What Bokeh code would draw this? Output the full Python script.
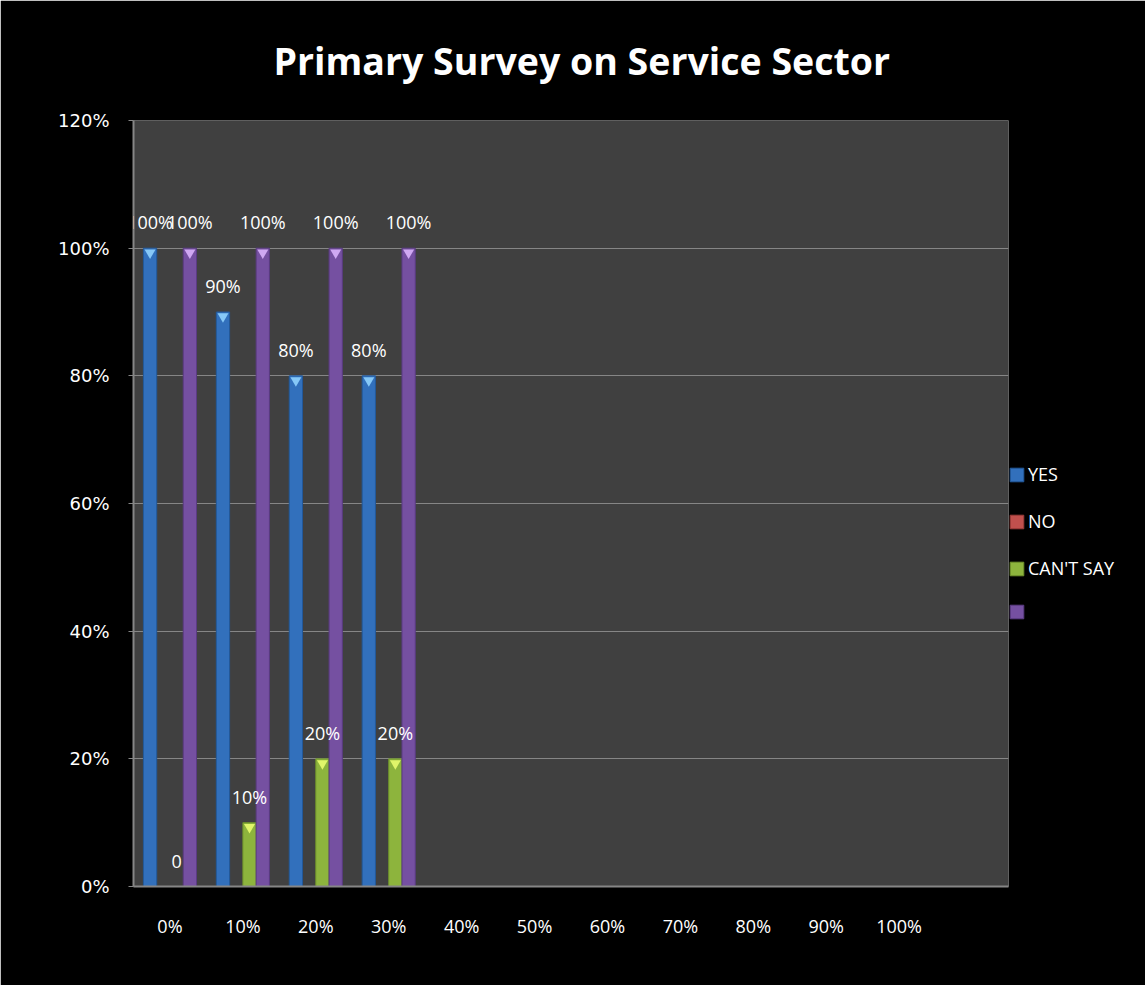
import math
from bokeh.plotting import figure
from bokeh.models import (ColumnDataSource, FactorRange, Range1d, NumeralTickFormatter,
                          FixedTicker, Legend, LegendItem, LabelSet)
from bokeh.transform import dodge
from bokeh.core.properties import value
from bokeh.embed import file_html
from bokeh.resources import INLINE

# ---------------- data ----------------
title_text = "Primary Survey on Service Sector"
categories = ["0%", "10%", "20%", "30%", "40%", "50%", "60%", "70%", "80%", "90%", "100%", " "]
data_categories = ["0%", "10%", "20%", "30%"]
yes_values = [1.0, 0.9, 0.8, 0.8]
no_values = [float("nan"), float("nan"), float("nan"), float("nan")]
cant_say_values = [0.0, 0.1, 0.2, 0.2]
blank_values = [1.0, 1.0, 1.0, 1.0]
series_names = ["YES", "NO", "CAN'T SAY", " "]
y_ticks = [0.0, 0.2, 0.4, 0.6, 0.8, 1.0, 1.2]

# ---------------- style ----------------
fill_colors = ["#3270BC", "#C0504D", "#8DB43D", "#7550A1"]
edge_colors = ["#22599A", "#9A3B38", "#6E912B", "#5A3B82"]
top_colors = ["#86C8F7", "#F09A98", "#E0F56A", "#CFA8F2"]
grid_color = "#868686"
bar_w = 0.182
offsets = [-1.5 * bar_w, -0.5 * bar_w, 0.5 * bar_w, 1.5 * bar_w]
FONT = "Open Sans"

p = figure(x_range=FactorRange(*categories), y_range=Range1d(0, 1.2),
           frame_width=875, frame_height=766, output_backend="svg", toolbar_location=None,
           min_border_left=133, min_border_right=121, min_border_top=120,
           min_border_bottom=99, background_fill_color="#404040",
           border_fill_color="black", outline_line_color=None)

p.title.text = title_text
p.title.text_color = "white"
p.title.text_font = FONT
p.title.text_font_style = "bold"
p.title.text_font_size = "37.5px"
p.title.align = "left"
p.title.offset = 140
p.title.vertical_align = "top"
p.title.standoff = 66

# y axis
p.yaxis.ticker = FixedTicker(ticks=y_ticks)
p.yaxis.formatter = NumeralTickFormatter(format="0%")
p.yaxis.major_label_text_font = "DejaVu Sans"
p.yaxis.major_label_text_font_size = "18px"
p.yaxis.major_label_text_color = "white"
p.yaxis.axis_line_color = grid_color
p.yaxis.axis_line_width = 2
p.yaxis.major_tick_line_color = grid_color
p.yaxis.major_tick_out = 5
p.yaxis.major_tick_in = 0
p.yaxis.minor_tick_line_color = None
p.yaxis.major_label_standoff = 19

# x axis
p.xaxis.major_label_text_font = FONT
p.xaxis.major_label_text_font_size = "18px"
p.xaxis.major_label_text_color = "white"
p.xaxis.axis_line_color = grid_color
p.xaxis.axis_line_width = 2
p.xaxis.major_tick_line_color = None
p.xaxis.major_tick_out = 0
p.xaxis.major_tick_in = 0
p.xaxis.major_label_standoff = 27

p.xgrid.grid_line_color = None
p.ygrid.ticker = FixedTicker(ticks=y_ticks)
p.ygrid.grid_line_color = grid_color
p.ygrid.grid_line_width = 1


def fmt(v):
    if v is None or (isinstance(v, float) and math.isnan(v)):
        return ""
    if v == 0:
        return "0"
    return f"{round(v * 100)}%"


legend_items = []
all_values = [yes_values, no_values, cant_say_values, blank_values]
for i, vals in enumerate(all_values):
    tri_y = [v - 0.007 if (not math.isnan(v) and v > 0) else float("nan") for v in vals]
    src = ColumnDataSource(dict(x=data_categories, top=vals, tri=tri_y,
                                label=[fmt(v) for v in vals]))
    xs = dodge("x", offsets[i], range=p.x_range)
    r = p.vbar(x=xs, top="top", bottom=0, width=bar_w, source=src,
               fill_color=fill_colors[i], line_color=edge_colors[i], line_width=1)
    p.scatter(x=xs, y="tri", source=src, marker="inverted_triangle", size=11,
              fill_color=top_colors[i], line_color=None)
    labels = LabelSet(x=xs, y="top", text="label", source=src,
                      text_align="center", text_baseline="alphabetic", y_offset=19,
                      text_color="white", text_font=value(FONT), text_font_size="18px")
    p.add_layout(labels)
    legend_items.append(LegendItem(label=series_names[i], renderers=[r]))

legend = Legend(items=legend_items, location="center_left", padding=0, margin=0,
                glyph_width=17, glyph_height=17, label_standoff=3, spacing=23,
                title=" ", title_text_font_size="18px", title_standoff=55,
                background_fill_alpha=0, border_line_color=None,
                label_text_color="white", label_text_font=FONT,
                label_text_font_size="18px")
p.add_layout(legend, "right")

open("out.html", "w").write(file_html(p, INLINE))
